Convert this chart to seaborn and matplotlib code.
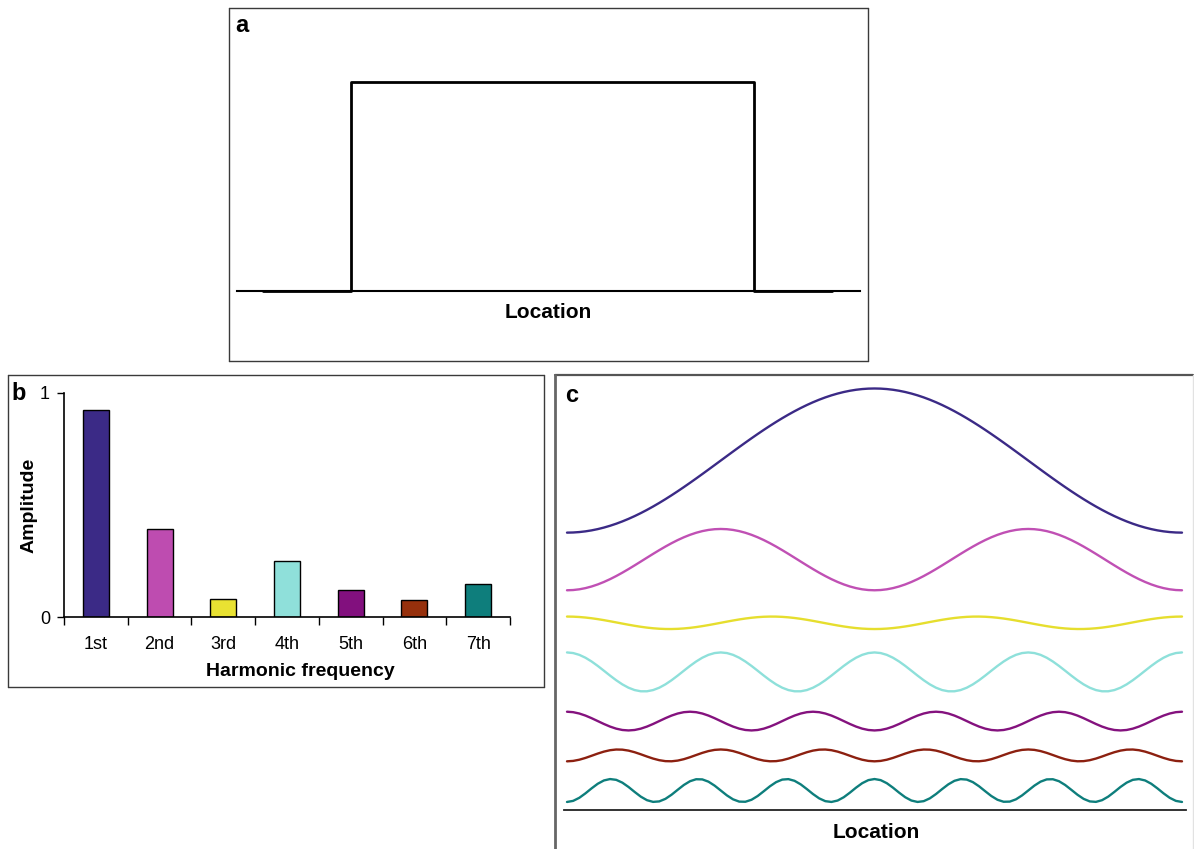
import numpy as np
import pandas as pd
import matplotlib
matplotlib.use("Agg")
import matplotlib.pyplot as plt
import seaborn as sns
from matplotlib.lines import Line2D

# ---------------- data ----------------
harmonics = ["1st", "2nd", "3rd", "4th", "5th", "6th", "7th"]
amplitudes = [0.924, 0.393, 0.080, 0.250, 0.120, 0.076, 0.147]
# phase of each harmonic wave in panel c (+1: crest at the edges, -1: trough at the edges)
phase_signs = [-1, -1, 1, 1, 1, -1, -1]
# vertical stacking of the waves in panel c (amplitude units above the axis)
stack_offsets = [4.48, 3.21, 2.40, 1.77, 1.14, 0.70, 0.25]
colors = ["#3B2A86", "#BE4CB0", "#E9E232", "#8FE0DA", "#82107E", "#96300C", "#0E7E7C"]
line_colors = ["#3B2A86", "#C050B4", "#E6DE2E", "#8EE0DA", "#84127E", "#8C2010", "#0E7E7C"]

pulse_location = [0.0, 0.155, 0.155, 0.863, 0.863, 1.0]
pulse_value = [0, 0, 1, 1, 0, 0]
amp_ticks = [0, 1]

# ---------------- style ----------------
sns.set_style("white")
plt.rcParams["font.family"] = ["Liberation Sans", "DejaVu Sans"]
plt.rcParams["text.color"] = "black"
plt.rcParams["axes.labelcolor"] = "black"
plt.rcParams["xtick.color"] = "black"
plt.rcParams["ytick.color"] = "black"

W, H = 1194, 849
fig = plt.figure(figsize=(W / 100, H / 100), dpi=100)


def add_ax(x0, y0, x1, y1):
    return fig.add_axes([x0 / W, 1 - y1 / H, (x1 - x0) / W, (y1 - y0) / H])


def fig_line(x0, y0, x1, y1, color="#444444", lw=1.0):
    fig.add_artist(Line2D([x0 / W, x1 / W], [1 - y0 / H, 1 - y1 / H],
                          transform=fig.transFigure, color=color, lw=lw))


def box(x0, y0, x1, y1, color="#444444", lw=1.0):
    fig_line(x0, y0, x1, y0, color, lw)
    fig_line(x1, y0, x1, y1, color, lw)
    fig_line(x1, y1, x0, y1, color, lw)
    fig_line(x0, y1, x0, y0, color, lw)


def clean(ax):
    for s in ["top", "right", "left", "bottom"]:
        ax.spines[s].set_visible(False)
    ax.set_facecolor("none")


# ---------------- panel a ----------------
box(229, 8, 868, 361, "#3a3a3a", 1.0)
axa = add_ax(237, 60, 860, 291)
clean(axa)
pulse_df = pd.DataFrame({"Location": pulse_location, "Value": pulse_value})
sns.lineplot(data=pulse_df, x="Location", y="Value", sort=False, estimator=None,
             color="black", lw=2.0, ax=axa, clip_on=False)
axa.set_xlim((237 - 263) / 569, (860 - 263) / 569)
axa.set_ylim(0, (291 - 60) / 209)
axa.spines["bottom"].set_visible(True)
axa.spines["bottom"].set_color("black")
axa.spines["bottom"].set_linewidth(1.5)
axa.set_xticks([])
axa.set_yticks([])
axa.set_ylabel("")
axa.set_xlabel("Location", fontsize=15, fontweight="bold", va="center")
axa.xaxis.set_label_coords((548 - 237) / 623, (291 - 312) / 231)
fig.text(242 / W, 1 - 25 / H, "a", fontsize=17, fontweight="bold", ha="center", va="center")

# ---------------- panel b ----------------
box(8, 375, 544, 687, "#3a3a3a", 1.0)
axb = add_ax(64, 393, 510, 617)
clean(axb)
bar_df = pd.DataFrame({"Harmonic": harmonics, "Amplitude": amplitudes})
sns.barplot(data=bar_df, x="Harmonic", y="Amplitude", hue="Harmonic",
            palette=colors, saturation=1, width=0.41, edgecolor="black", linewidth=1.0,
            legend=False, ax=axb)
axb.set_xlim(-0.5, len(harmonics) - 0.5)
axb.set_ylim(0, 1)
for s in ["left", "bottom"]:
    axb.spines[s].set_visible(True)
    axb.spines[s].set_color("black")
    axb.spines[s].set_linewidth(1.2)
axb.set_yticks(amp_ticks)
axb.set_yticklabels([str(v) for v in amp_ticks])
axb.tick_params(axis="y", length=5, width=1.0, pad=5, labelsize=13, left=True, color="black")
axb.set_xticks(range(len(harmonics)))
axb.set_xticklabels(harmonics)
axb.set_xticks(np.arange(-0.5, len(harmonics)), minor=True)
axb.tick_params(axis="x", which="major", length=0, pad=14, labelsize=13)
axb.tick_params(axis="x", which="minor", length=6, width=1.0, bottom=True, color="black")
axb.set_xlabel("Harmonic frequency", fontsize=14, fontweight="bold", va="center")
axb.xaxis.set_label_coords((300 - 64) / 446, (617 - 671) / 224)
axb.set_ylabel("Amplitude", fontsize=14, fontweight="bold", va="center")
axb.yaxis.set_label_coords((29 - 64) / 446, 0.5)
fig.text(19 / W, 1 - 394 / H, "b", fontsize=17, fontweight="bold", ha="center", va="center")

# ---------------- panel c ----------------
fig_line(555, 375, 1193, 375, "#555555", 1.6)
fig_line(555, 375, 555, 849, "#666666", 2.0)
fig_line(1193, 375, 1193, 849, "#e2e2e2", 1.0)
axc = add_ax(564, 380, 1186, 810)
clean(axc)
t = np.linspace(0, 1, 101)
rows = []
for k, (name, amp, sgn, off) in enumerate(zip(harmonics, amplitudes, phase_signs, stack_offsets), start=1):
    wave = off + sgn * amp * np.cos(2 * np.pi * k * t)
    rows.append(pd.DataFrame({"Location": t, "Value": wave, "Harmonic": name}))
wave_df = pd.concat(rows, ignore_index=True)
sns.lineplot(data=wave_df, x="Location", y="Value", hue="Harmonic", palette=line_colors,
             estimator=None, sort=False, lw=1.7, legend=False, ax=axc)
axc.set_xlim((564 - 567) / 615, 1 + (1186 - 1182) / 615)
axc.set_ylim(0, (810 - 380) / 78)
axc.spines["bottom"].set_visible(True)
axc.spines["bottom"].set_color("#222222")
axc.spines["bottom"].set_linewidth(1.3)
axc.set_xticks([])
axc.set_yticks([])
axc.set_ylabel("")
axc.set_xlabel("Location", fontsize=15, fontweight="bold", va="center")
axc.xaxis.set_label_coords((876 - 564) / 622, (810 - 832) / 430)
fig.text(572 / W, 1 - 395 / H, "c", fontsize=17, fontweight="bold", ha="center", va="center")

fig.savefig("out.png", dpi=100, facecolor="white")
